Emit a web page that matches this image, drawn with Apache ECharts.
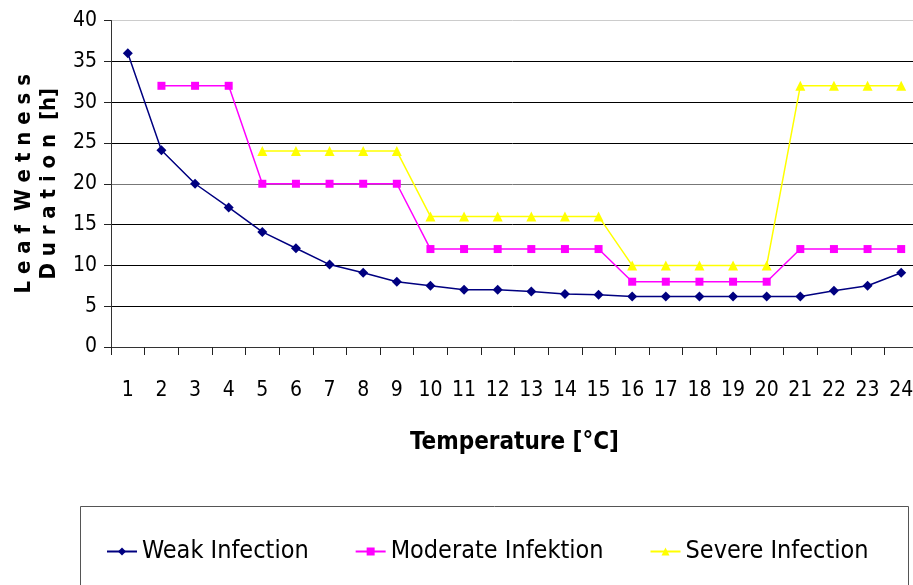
<!DOCTYPE html>
<html>
<head>
<meta charset="utf-8">
<script src="https://cdn.jsdelivr.net/npm/echarts@6/dist/echarts.min.js"></script>
<style>
html, body {margin: 0; padding: 0; background: #fff;}
#chart {width: 913px; height: 585px;}
</style>
</head>
<body>
<div id="chart"></div>
<script>
var temps = ['1','2','3','4','5','6','7','8','9','10','11','12','13','14','15','16','17','18','19','20','21','22','23','24'];
var weak = [36, 24.1, 20, 17.1, 14.1, 12.1, 10.1, 9.1, 8, 7.5, 7, 7, 6.8, 6.5, 6.4, 6.2, 6.2, 6.2, 6.2, 6.2, 6.2, 6.9, 7.5, 9.1];
var moderate = ['-', 32, 32, 32, 20, 20, 20, 20, 20, 12, 12, 12, 12, 12, 12, 8, 8, 8, 8, 8, 12, 12, 12, 12];
var severe = ['-', '-', '-', '-', 24, 24, 24, 24, 24, 16, 16, 16, 16, 16, 16, 10, 10, 10, 10, 10, 32, 32, 32, 32];

var font = '"Liberation Sans Narrow", "DejaVu Sans Condensed", sans-serif';

var chart = echarts.init(document.getElementById('chart'), null, {renderer: 'canvas'});

chart.setOption({
    animation: false,
    backgroundColor: '#fff',
    grid: {left: 111, top: 20.5, width: 807, height: 326.5, outerBoundsMode: 'none', containLabel: false},
    graphic: [{
        type: 'rect',
        shape: {x: 80.5, y: 506.5, width: 828, height: 90},
        style: {fill: 'none', stroke: '#555', lineWidth: 1}
    }],
    legend: {
        left: 101, top: 534,
        itemWidth: 30, itemHeight: 10, itemGap: 46,
        textStyle: {fontFamily: font, fontSize: 25, color: '#000'},
        data: ['Weak Infection', 'Moderate Infektion', 'Severe Infection']
    },
    xAxis: {
        type: 'category',
        data: temps,
        boundaryGap: true,
        name: 'Temperature [°C]',
        nameLocation: 'middle',
        nameGap: 84,
        nameTextStyle: {fontFamily: font, fontSize: 24, fontWeight: 'bold', color: '#000'},
        axisLine: {show: true, lineStyle: {color: '#333', width: 1}},
        axisTick: {show: true, length: 8, lineStyle: {color: '#222', width: 1}},
        axisLabel: {interval: 0, fontFamily: font, fontSize: 21, color: '#000', margin: 33}
    },
    yAxis: {
        type: 'value',
        min: 0, max: 40, interval: 5,
        name: 'L e a f  W e t n e s s\nD u r a t i o n  [h]',
        nameLocation: 'middle',
        nameRotate: 90,
        nameGap: 44,
        nameTextStyle: {fontFamily: font, fontSize: 22, fontWeight: 'bold', color: '#000', lineHeight: 25},
        axisLine: {show: true, lineStyle: {color: '#333', width: 1}},
        axisTick: {show: true, length: 7, lineStyle: {color: '#222', width: 1}},
        axisLabel: {fontFamily: font, fontSize: 21, color: '#000', margin: 14},
        splitLine: {lineStyle: {color: ['#444', '#000', '#000', '#000', '#777', '#000', '#000', '#000', '#ccc'], width: 1}}
    },
    series: [{
        name: 'Weak Infection',
        type: 'line',
        data: weak,
        symbol: 'diamond',
        symbolSize: 10,
        color: '#000080',
        lineStyle: {width: 1.5, color: '#000080'}
    }, {
        name: 'Moderate Infektion',
        type: 'line',
        data: moderate,
        symbol: 'rect',
        symbolSize: 8,
        color: '#ff00ff',
        lineStyle: {width: 1.5, color: '#ff00ff'}
    }, {
        name: 'Severe Infection',
        type: 'line',
        data: severe,
        symbol: 'triangle',
        symbolSize: 10,
        color: '#ffff00',
        lineStyle: {width: 1.5, color: '#ffff00'}
    }]
});
</script>
</body>
</html>
